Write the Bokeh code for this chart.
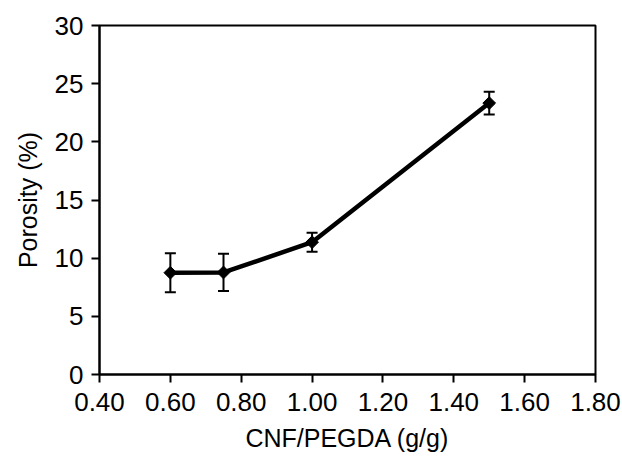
import math
from bokeh.plotting import figure
from bokeh.models import ColumnDataSource, Whisker, FixedTicker, TeeHead, Range1d
from bokeh.embed import file_html
from bokeh.resources import INLINE

# Data
ratio = [0.60, 0.75, 1.00, 1.50]
porosity = [8.75, 8.77, 11.37, 23.33]
error = [1.68, 1.60, 0.82, 0.97]

x_ticks = [0.4, 0.6, 0.8, 1.0, 1.2, 1.4, 1.6, 1.8]
x_tick_labels = ["0.40", "0.60", "0.80", "1.00", "1.20", "1.40", "1.60", "1.80"]
y_ticks = [0, 5, 10, 15, 20, 25, 30]

FONT = "Liberation Sans"

src = ColumnDataSource(dict(
    x=ratio, y=porosity,
    upper=[v + e for v, e in zip(porosity, error)],
    lower=[v - e for v, e in zip(porosity, error)],
))

p = figure(width=622, height=457, output_backend="svg", toolbar_location=None,
           x_range=Range1d(0.4, 1.8), y_range=Range1d(0, 30),
           min_border_left=99, min_border_top=25, min_border_right=27, min_border_bottom=83)

p.background_fill_color = "white"
p.border_fill_color = "white"
p.outline_line_color = "black"
p.outline_line_width = 2
p.grid.visible = False

whisk = Whisker(source=src, base="x", upper="upper", lower="lower",
                line_color="black", line_width=2,
                upper_head=TeeHead(size=11, line_width=2, line_color="black"),
                lower_head=TeeHead(size=11, line_width=2, line_color="black"))
p.add_layout(whisk)

p.line("x", "y", source=src, line_color="black", line_width=4.5)
p.scatter("x", "y", source=src, marker="square", angle=math.pi / 4, size=9,
          fill_color="black", line_color="black")

for ax in (p.xaxis[0], p.yaxis[0]):
    ax.axis_line_color = "black"
    ax.axis_line_width = 2
    ax.major_tick_line_color = "black"
    ax.major_tick_line_width = 2
    ax.major_tick_in = 0
    ax.major_tick_out = 8
    ax.minor_tick_line_color = None
    ax.major_label_text_font = FONT
    ax.major_label_text_font_size = "26px"
    ax.major_label_text_color = "black"
    ax.axis_label_text_font = FONT
    ax.axis_label_text_font_size = "25px"
    ax.axis_label_text_font_style = "normal"
    ax.axis_label_text_color = "black"

p.xaxis.ticker = FixedTicker(ticks=x_ticks)
p.xaxis.major_label_overrides = {t: l for t, l in zip(x_ticks, x_tick_labels)}
p.yaxis.ticker = FixedTicker(ticks=y_ticks)
p.xaxis.axis_label = "CNF/PEGDA (g/g)"
p.yaxis.axis_label = "Porosity (%)"
p.xaxis.major_label_standoff = 10
p.yaxis.major_label_standoff = 8
p.xaxis.axis_label_standoff = 10
p.yaxis.axis_label_standoff = 10

open("out.html", "w").write(file_html(p, INLINE))
